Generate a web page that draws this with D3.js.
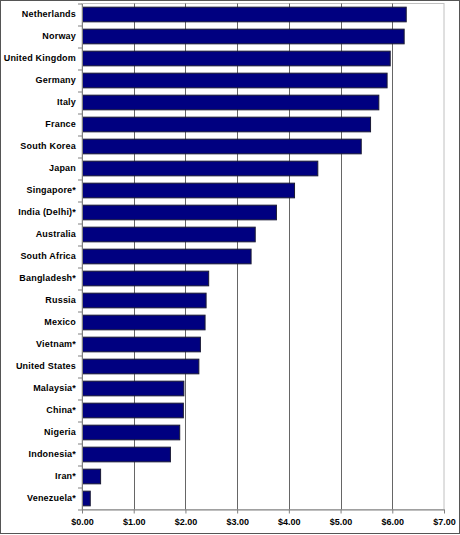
<!DOCTYPE html>
<html>
<head>
<meta charset="utf-8">
<script src="https://cdn.jsdelivr.net/npm/d3@7"></script>
<style>
    body { margin: 0; background: #fff; }
    svg { display: block; }
    .tick text { font-family: "Liberation Sans", Arial, sans-serif; font-weight: bold; font-size: 9px; fill: #000; }
</style>
</head>
<body>
<svg id="chart" width="460" height="535"></svg>
<script>
// countries top to bottom, values in US dollars
const countries = [
    "Netherlands", "Norway", "United Kingdom", "Germany", "Italy", "France",
    "South Korea", "Japan", "Singapore*", "India (Delhi)*", "Australia",
    "South Africa", "Bangladesh*", "Russia", "Mexico", "Vietnam*",
    "United States", "Malaysia*", "China*", "Nigeria", "Indonesia*",
    "Iran*", "Venezuela*"
];
const prices = [
    6.26, 6.22, 5.95, 5.89, 5.73, 5.57,
    5.39, 4.55, 4.10, 3.75, 3.34,
    3.26, 2.44, 2.39, 2.37, 2.28,
    2.25, 1.96, 1.95, 1.88, 1.70,
    0.35, 0.15
];
const xTicks = [0, 1, 2, 3, 4, 5, 6, 7];

const svg = d3.select("#chart");
const margin = {top: 3.5, right: 16, bottom: 25.5, left: 82};
const width = 460 - margin.left - margin.right;
const height = 535 - margin.top - margin.bottom;

// outer frame
svg.append("rect")
    .attr("x", 0.5).attr("y", 0.5)
    .attr("width", 459).attr("height", 533)
    .attr("fill", "none")
    .attr("stroke", "#555");

const g = svg.append("g")
    .attr("transform", "translate(" + margin.left + "," + margin.top + ")");

const x = d3.scaleLinear().domain([0, 7]).range([0, width]);
const y = d3.scaleBand().domain(countries).range([0, height]).paddingInner(1 / 3).paddingOuter(1 / 6);

// plot area border (light)
g.append("rect")
    .attr("x", 0).attr("y", 0)
    .attr("width", width).attr("height", height)
    .attr("fill", "none")
    .attr("stroke", "#c0c0c0");

// vertical gridlines
g.selectAll("line.grid")
    .data(xTicks.slice(1, -1))
    .enter()
    .append("line")
    .attr("class", "grid")
    .attr("x1", d => Math.round(x(d)) + 0.5)
    .attr("x2", d => Math.round(x(d)) + 0.5)
    .attr("y1", 0)
    .attr("y2", height)
    .attr("stroke", "#666");

// bars
g.selectAll("rect.bar")
    .data(prices)
    .enter()
    .append("rect")
    .attr("class", "bar")
    .attr("x", 0.5)
    .attr("y", (d, i) => y(countries[i]))
    .attr("width", d => x(d))
    .attr("height", y.bandwidth())
    .attr("fill", "#000080")
    .attr("stroke", "#1a1a33")
    .attr("stroke-width", 1);

// y axis with ticks at category boundaries
const yAxis = g.append("g").call(d3.axisLeft(y).tickSize(0).tickPadding(6));
yAxis.select(".domain").attr("stroke", "#808080");
yAxis.selectAll(".tick text").attr("letter-spacing", "0.2px");
g.selectAll("line.ytick")
    .data(d3.range(countries.length + 1))
    .enter()
    .append("line")
    .attr("class", "ytick")
    .attr("x1", -4).attr("x2", 0)
    .attr("y1", d => Math.round(d * y.step()) + 0.5)
    .attr("y2", d => Math.round(d * y.step()) + 0.5)
    .attr("stroke", "#808080");

// x axis
const xAxis = g.append("g")
    .attr("transform", "translate(0," + height + ")")
    .call(d3.axisBottom(x).tickValues(xTicks).tickSize(4).tickSizeOuter(0).tickPadding(5)
        .tickFormat(d => "$" + d3.format(".2f")(d)));
xAxis.select(".domain").attr("stroke", "#808080");
xAxis.selectAll(".tick line").attr("stroke", "#808080");
</script>
</body>
</html>
